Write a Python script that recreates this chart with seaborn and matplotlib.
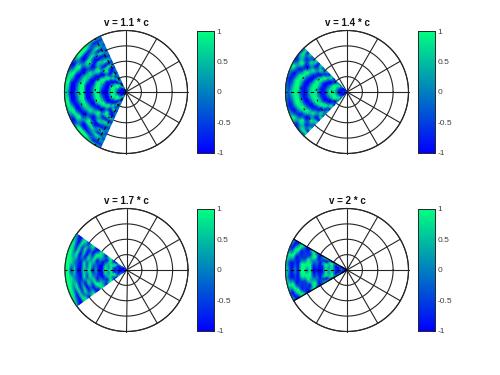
import numpy as np
import matplotlib
matplotlib.use("Agg")
import matplotlib.pyplot as plt
from matplotlib.projections.polar import PolarAxes
from matplotlib.transforms import Affine2D
import seaborn as sns

sns.set_style("white")
plt.rcParams['font.family'] = ['Liberation Sans', 'DejaVu Sans']

# rows go from the centre (r=0) out to the rim, columns from the cone axis to the cone edge
v11 = [
    [-.2, -.2, -.2, -.2, -.2, -.2, -.2, -.2],
    [-1, -1, -1, -1, -1, -1, -1, -.6],
    [-1, -1, -1, -1, -1, 0, 1, .2],
    [-.1, -.1, .1, 1, 1, 1, -1, -.6],
    [1, 1, 1, 1, 1, -1, -.1, .2],
    [1, 1, 1, 0, -1, -1, 1, -.6],
    [-1, -1, -1, -1, -1, 1, -1, .2],
    [-1, -1, -1, -1, 1, 0, 1, -.6],
    [-1, -.2, .2, 1, 1, -1, -1, .2],
    [1, 1, 1, 1, -1, 1, -1, -.6],
    [1, 1, 1, -1, -1, 1, 1, .2],
    [-.1, -.3, -1, -1, 1, -1, -1, -.6],
    [-1, -1, -1, .2, 1, 0, 1, .2],
    [-1, -1, .3, 1, -1, 1, -.1, -.6],
    [1, 1, 1, .1, -1, -1, -1, .2],
    [1, 1, .2, -1, 1, -1, 1, -.6],
    [.2, -.1, -1, -1, 1, 1, -1, .2],
    [-1, -1, -1, 1, -1, 0, 1, -.6],
    [-1, -1, 1, 1, -1, -1, 0, .2],
    [.3, 1, 1, -1, 1, 1, -1, -.6],
    [1, 1, .1, -1, 1, 1, 1, .2],
]
v14 = [
    [-.2, -.2, -.2, -.2, -.2, -.2, -.2, -.2],
    [-.6, -.6, -.6, -.6, -1, -1, -1, -1],
    [-1, -1, -1, -1, -1, -1, -1, 1],
    [-.5, -.5, -.5, -.2, 0, .6, 1, -1],
    [.6, .7, 1, 1, 1, 1, .6, .2],
    [1, 1, 1, 1, 1, 0, -1, .3],
    [.7, .7, .3, 0, -1, -1, -.3, -1],
    [-.5, -.5, -.6, -1, -1, -.6, 1, 1],
    [-1, -1, -1, -1, -.1, 1, .2, -1],
    [-.5, -.5, .1, .3, 1, 1, -1, .5],
    [.7, .8, 1, 1, 1, -1, -.1, 0],
    [1, 1, 1, .7, -.6, -1, 1, -.6],
    [.7, .6, .1, -1, -1, .2, 0, 1],
    [-.5, -.5, -1, -1, -.2, 1, -1, -1],
    [-1, -1, -1, -.2, 1, .2, .1, 1],
    [-.5, -.4, .3, 1, 1, -1, 1, -.3],
    [.7, 1, 1, 1, -.3, -1, -.2, -.3],
    [1, 1, 1, .2, -1, 1, -1, 1],
    [.7, .2, -.2, -1, -.3, 1, .3, -1],
    [-.4, -.6, -1, -.6, 1, -.6, 1, 1],
    [.3, .1, -.2, .4, 1, -1, -.4, -.6],
]
v17 = [
    [-.2, -.2, -.2, -.2, -.2],
    [-1, -1, -1, -1, -1],
    [-1, -1, -1, -.1, -.2],
    [-.4, -.4, -1, -1, 1],
    [-1, -1, .6, 1, -1],
    [1, 1, 1, -.1, -1],
    [.4, -.1, .6, 1, 1],
    [1, 1, .2, -1, 1],
    [-1, -1, -1, -.2, -1],
    [-1, -1, -.1, .5, .2],
    [.3, -.2, -1, 1, 1],
    [-1, -.1, 1, 1, -1],
    [1, 1, -.1, -1, -1],
    [.2, -.5, 1, -.2, 1],
    [.7, 1, -1, -1, .7],
    [-1, -1, .3, 1, -1],
    [-1, -.5, -1, -.6, .7],
    [.8, -.1, 1, .8, 1],
    [-.8, .8, 0, -1, -1],
    [1, 1, 1, .6, -1],
    [1, 1, 1, 1, 1],
]
v20 = [
    [-.2, -.2, -.2, -.2, -.2],
    [-1, -1, -1, -1, -1],
    [.1, 0, -.2, -1, -1],
    [-1, -1, -1, -.1, 1],
    [-.5, -.6, -1, -1, 1],
    [1, 1, 1, 1, -1],
    [.2, 0, .3, 1, -1],
    [1, 1, 1, -1, .6],
    [-1, -.6, .5, -.8, 1],
    [-1, -1, -1, -.3, 0],
    [-1, -.3, 0, -1, -1],
    [-1, -1, -.1, 1, -.6],
    [1, 1, .2, 1, 1],
    [0, 1, 1, -1, 1],
    [1, 1, -.5, -.6, -1],
    [1, 1, -.6, -.5, -1],
    [-1, -1, -.5, -1, 1],
    [.2, -.5, -1, 1, 1],
    [-1, -1, 1, 1, -1],
    [0, -.6, 1, -1, -1],
    [1, 1, .6, -.4, 1],
]

titles = ["v = 1.1 * c", "v = 1.4 * c", "v = 1.7 * c", "v = 2 * c"]
fields = [v11, v14, v17, v20]
half_angles = [65.4, 45.6, 36.0, 30.0]
cbar_ticks = [-1, -0.5, 0, 0.5, 1]
cbar_labels = ["-1", "-0.5", "0", "0.5", "1"]

# pixel boxes measured on the picture: centre x, centre y, radius, colorbar left
boxes = [(126, 92, 61.5, 197), (347, 92, 61.5, 417.5),
         (126.5, 270, 61.5, 197), (347, 270, 61.5, 417.5)]
# which spokes/rings show through the wedge as broken lines
spokes_on_top = [[120, 180, 240], [180], [180], [180]]
solid_on_top = [[], [], [], [150, 210]]
rings_on_top = [[0.25, 0.5, 0.75], [0.25, 0.5, 0.75], [], []]

W, H = 500.0, 375.0
dark = "#262626"
fig = plt.figure(figsize=(5, 3.75), dpi=100)


def grid_line(ax, t, r, **kw):
    ax.plot(r * np.cos(t), r * np.sin(t), clip_on=False, **kw)


for i in range(4):
    cx, cy, rad, cb_x = boxes[i]
    ax = fig.add_axes([(cx - rad) / W, 1 - (cy + rad) / H, 2 * rad / W, 2 * rad / H])
    cax = fig.add_axes([cb_x / W, 1 - (cy + 60.5) / H, 17 / W, 121.5 / H])

    half = np.array(fields[i])
    data = np.hstack([half[:, :0:-1], half])
    alpha = np.radians(half_angles[i])
    # index space of the heatmap -> theta, r -> x, y
    cell = Affine2D().scale(2 * alpha / (data.shape[1] - 1), 1.0 / (data.shape[0] - 1))
    cell = cell.translate(np.pi - alpha, 0)
    polar = PolarAxes.PolarTransform(apply_theta_transforms=False)
    sns.heatmap(data, ax=ax, cmap="winter", vmin=-1, vmax=1, cbar_ax=cax,
                cbar_kws={"ticks": cbar_ticks}, xticklabels=False, yticklabels=False,
                shading="gouraud", transform=cell + polar + ax.transData)

    ax.set_xlim(-1, 1)
    ax.set_ylim(-1, 1)
    ax.set_axis_off()
    ax.set_title(titles[i], fontsize=7, fontweight="bold", color="#111111", pad=3)
    ax.title.set_visible(True)

    # polar grid, under the surface
    circle = np.linspace(0, 2 * np.pi, 240)
    for ring in [0.25, 0.5, 0.75, 1]:
        grid_line(ax, circle, ring, color=dark, lw=0.8, zorder=0.5)
    for deg in range(0, 360, 30):
        grid_line(ax, np.radians([deg, deg]), np.array([0, 1]), color=dark, lw=0.8, zorder=0.5)
    grid_line(ax, circle, 1, color=dark, lw=0.8, zorder=3)

    # grid bits that poke through the surface
    for deg in spokes_on_top[i]:
        grid_line(ax, np.radians([deg, deg]), np.array([0, 1]), color="black", lw=0.8,
                  ls=(0, (3, 3)), zorder=3)
    for deg in solid_on_top[i]:
        grid_line(ax, np.radians([deg, deg]), np.array([0, 1]), color="black", lw=0.8, zorder=3)
    for ring in rings_on_top[i]:
        t = np.radians(np.linspace(180 - half_angles[i], 180 + half_angles[i], 60))
        grid_line(ax, t, ring, color="black", lw=0.7, ls=(0, (2, 9)), zorder=3)

    cax.set_yticks(cbar_ticks)
    cax.set_yticklabels(cbar_labels)
    cax.tick_params(axis="y", direction="in", length=2, width=0.5, right=True, left=False,
                    color=dark, labelsize=6, labelcolor="#404040", pad=2)
    for sp in cax.spines.values():
        sp.set_visible(True)
        sp.set_linewidth(0.6)
        sp.set_color(dark)

plt.savefig("out.png", dpi=100)
plt.close()
